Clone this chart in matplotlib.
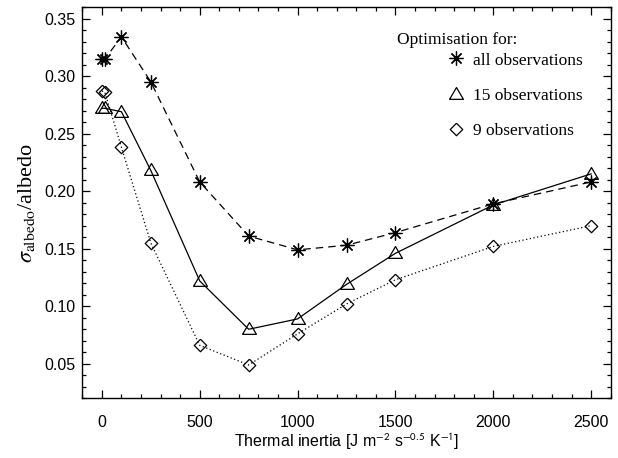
import numpy as np
import matplotlib
matplotlib.use('Agg')
import matplotlib.pyplot as plt
from matplotlib.lines import Line2D

plt.rcParams['font.family'] = 'Liberation Sans'
plt.rcParams['mathtext.fontset'] = 'stix'

# thermal inertia values
inertia = [0, 15, 100, 250, 500, 750, 1000, 1250, 1500, 2000, 2500]

# sigma_albedo / albedo
all_obs = [0.315, 0.315, 0.334, 0.295, 0.208, 0.161, 0.149, 0.153, 0.164, 0.189, 0.208]
obs_15 = [0.272, 0.272, 0.269, 0.218, 0.122, 0.080, 0.089, 0.119, 0.146, 0.188, 0.215]
obs_9 = [0.287, 0.286, 0.238, 0.155, 0.066, 0.049, 0.076, 0.102, 0.123, 0.152, 0.170]

labels = ['all observations', '15 observations', '9 observations']

tri = [(-1, -0.7), (1, -0.7), (0, 1.0), (-1, -0.7)]
dia = [(0, 1), (1, 0), (0, -1), (-1, 0), (0, 1)]

styles = [
    dict(marker=(8, 2, 0), ms=10, ls=(0, (6, 4)), mfc='none'),
    dict(marker=tri, ms=10, ls='-', mfc='none'),
    dict(marker=dia, ms=9, ls=(0, (1, 2)), mfc='none'),
]

fig = plt.figure(figsize=(6.18, 4.58), dpi=100)
ax = fig.add_axes([0.1332, 0.1303, 0.855, 0.8544])

handles = []
for ys, st, lab in zip([all_obs, obs_15, obs_9], styles, labels):
    ax.plot(inertia, ys, color='black', lw=0.9, mec='black', mew=0.9, **st)
    h = Line2D([], [], color='black', ls='none', marker=st['marker'], ms=st['ms'],
               mfc='none', mec='black', mew=0.9)
    handles.append(h)

ax.set_xlim(-100, 2600)
ax.set_ylim(0.02, 0.36)
ax.set_xticks(np.arange(0, 2501, 500))
ax.set_xticks(np.arange(-100, 2601, 100), minor=True)
ax.set_yticks(np.arange(0.05, 0.351, 0.05))
ax.set_yticks(np.arange(0.02, 0.361, 0.01), minor=True)
ax.yaxis.set_major_formatter(matplotlib.ticker.FormatStrFormatter('%.2f'))

ax.tick_params(which='both', direction='in', top=True, right=True, width=0.9)
ax.tick_params(which='major', length=6)
ax.tick_params(which='minor', length=3)
ax.tick_params(axis='x', which='major', pad=12, labelsize=11.5)
ax.tick_params(axis='y', which='major', pad=5, labelsize=11.5)
for s in ax.spines.values():
    s.set_linewidth(1.0)

ax.set_xlabel(r'Thermal inertia [J m$^{\mathsf{-2}}$ s$^{\mathsf{-0.5}}$ K$^{\mathsf{-1}}$]',
              fontsize=11.5, labelpad=1)
ax.set_ylabel(r'$\sigma_{\mathrm{albedo}}$/albedo', fontsize=16,
              family='Liberation Serif', labelpad=5)

ax.text(0.5956, 0.9156, 'Optimisation for:', transform=ax.transAxes,
        family='Liberation Serif', fontsize=12.5, va='center', ha='left')
ax.legend(handles, labels, loc='upper left', bbox_to_anchor=(0.691, 0.884),
          frameon=False, borderpad=0, borderaxespad=0, handlelength=1,
          handletextpad=0.5, labelspacing=1.1,
          prop={'family': 'Liberation Serif', 'size': 12.5})

fig.savefig('out.png', dpi=100)
